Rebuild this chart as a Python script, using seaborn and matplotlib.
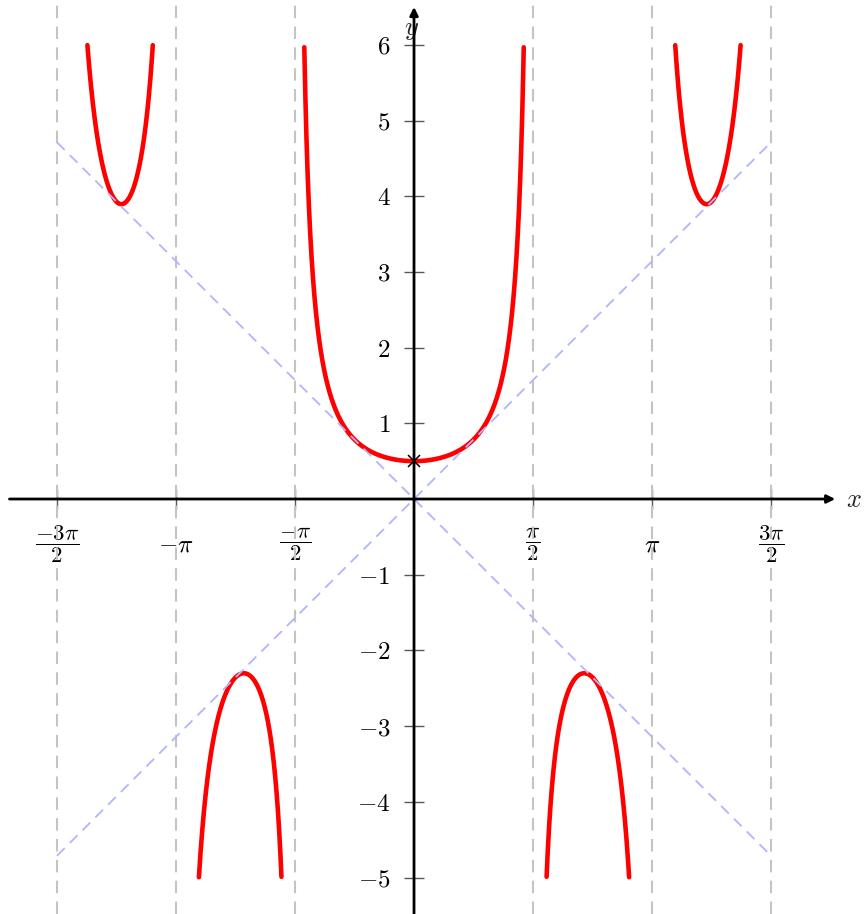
import numpy as np
import matplotlib
matplotlib.use("Agg")
import matplotlib.pyplot as plt
import seaborn as sns

# curve y = x / sin(2x), plotted between its poles and kept inside y in [-5, 6]
branch_edges = [-3 * np.pi / 2, -np.pi, -np.pi / 2, np.pi / 2, np.pi, 3 * np.pi / 2]
y_restrict = [-5, 6]
marked_point = [0.0, 0.5]

asymptotes = [-3 * np.pi / 2, -np.pi, -np.pi / 2, np.pi / 2, np.pi, 3 * np.pi / 2]
diag_range = [-3 * np.pi / 2, 3 * np.pi / 2]

x_ticks = [-3 * np.pi / 2, -np.pi, -np.pi / 2, np.pi / 2, np.pi, 3 * np.pi / 2]
x_tick_labels = [r"$\dfrac{-3\pi}{2}$", r"$-\pi$", r"$\dfrac{-\pi}{2}$",
                 r"$\dfrac{\pi}{2}$", r"$\pi$", r"$\dfrac{3\pi}{2}$"]
y_ticks = [-5, -4, -3, -2, -1, 1, 2, 3, 4, 5, 6]

sns.set_style("white")
plt.rcParams["mathtext.fontset"] = "cm"
plt.rcParams["font.family"] = ["DejaVu Serif"]

fig = plt.figure(figsize=(8.65, 9.14), dpi=100)
ax = fig.add_axes([0, 0, 1, 1])
ax.set_xlim(-5.465, 5.953)
ax.set_ylim(-5.482, 6.592)

for a in asymptotes:
    ax.axvline(a, color="#c4c4c4", lw=1.5, ls=(0, (6, 4)), zorder=1)

for lo, hi in zip(branch_edges[:-1], branch_edges[1:]):
    xs = np.linspace(lo, hi, 3000)[1:-1]
    ys = xs / np.sin(2 * xs)
    keep = (ys >= y_restrict[0]) & (ys <= y_restrict[1])
    sns.lineplot(x=xs[keep], y=ys[keep], color="red", lw=3.3, sort=False,
                 ax=ax, zorder=2)

d = np.array(diag_range)
ax.plot(d, d, color="#b3b3ff", lw=1.3, ls=(0, (6, 4)), zorder=3)
ax.plot(d, -d, color="#b3b3ff", lw=1.3, ls=(0, (6, 4)), zorder=3)

ax.plot(*marked_point, marker="x", color="black", ms=9, mew=1.1, zorder=6)

# axes through the origin
for s in ["top", "right", "left", "bottom"]:
    ax.spines[s].set_visible(False)
ax.spines["left"].set_position(("data", 0))
ax.spines["bottom"].set_position(("data", 0))
ax.annotate("", xy=(5.56, 0), xytext=(-5.34, 0),
            arrowprops=dict(arrowstyle="-|>", lw=2, color="black",
                            mutation_scale=12, shrinkA=0, shrinkB=0), zorder=5)
ax.annotate("", xy=(0, 6.5), xytext=(0, -5.49),
            arrowprops=dict(arrowstyle="-|>", lw=2, color="black",
                            mutation_scale=12, shrinkA=0, shrinkB=0), zorder=5)

ax.set_xticks(x_ticks)
ax.set_xticklabels(x_tick_labels)
ax.set_yticks(y_ticks)
ax.set_yticklabels([f"${v}$" for v in y_ticks])
ax.tick_params(axis="both", direction="inout", length=14, width=1,
               color="0.35", labelsize=18, labelcolor="black",
               bottom=True, left=True)
ax.tick_params(axis="x", pad=26)
ax.tick_params(axis="y", pad=10)
for lab in ax.get_xticklabels():
    lab.set_va("center")
    if "frac" in lab.get_text():
        lab.set_fontsize(16.5)

ax.text(5.7, 0, "$x$", fontsize=19, va="center", ha="left")
ax.text(-0.03, 6.2, "$y$", fontsize=19, va="center", ha="center")

fig.savefig("out.png", dpi=100)
